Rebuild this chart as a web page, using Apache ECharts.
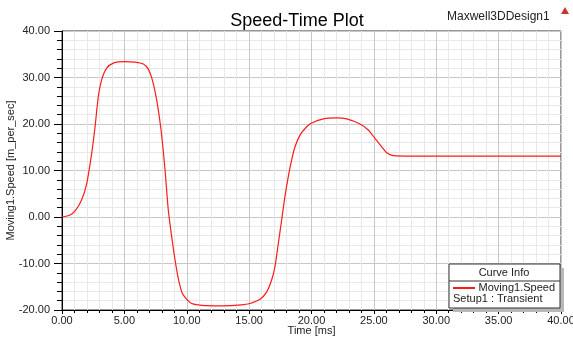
<!DOCTYPE html>
<html>
<head>
<meta charset="utf-8">
<script src="https://cdn.jsdelivr.net/npm/echarts@6/dist/echarts.min.js"></script>
<style>
html,body{margin:0;padding:0;background:#fff;}
#c{width:573px;height:337px;}
</style>
</head>
<body>
<div id="c"></div>
<script>
// Data
var timeMs = [0, 0.64, 1.10, 1.58, 1.98, 2.38, 2.65, 2.91, 3.18, 3.58, 4.11, 5.05, 5.85, 6.52, 6.92, 7.24, 7.59, 7.94, 8.26, 8.52, 8.79, 9.06, 9.32, 9.64, 10.0, 10.4, 11.2, 12.8, 14.4, 15.07, 15.87, 16.41, 16.81, 17.07, 17.34, 17.61, 17.87, 18.14, 18.41, 18.68, 19.08, 19.62, 20.02, 20.95, 22.02, 22.82, 23.89, 24.55, 25.09, 25.63, 26.03, 26.56, 28.0, 30.0, 35.0, 40.0];
var speed  = [0, 0.43, 1.5, 3.7, 7.2, 13.7, 19.4, 25.9, 29.5, 32.0, 33.1, 33.4, 33.3, 32.9, 31.8, 29.5, 25.2, 18.7, 10.1, 1.5, -4.2, -9.2, -13.2, -16.4, -17.7, -18.6, -19.0, -19.1, -18.9, -18.6, -17.7, -16.1, -13.5, -10.7, -5.7, -0.6, 4.4, 8.7, 12.3, 15.1, 17.6, 19.4, 20.2, 21.1, 21.3, 21.1, 20.0, 18.7, 16.9, 15.1, 13.8, 13.2, 13.1, 13.1, 13.1, 13.1];
var xTicks = {min: 0, max: 40, step: 5};
var yTicks = {min: -20, max: 40, step: 10};
var titleText = 'Speed-Time Plot';
var designName = 'Maxwell3DDesign1';
var seriesName = 'Moving1.Speed';
var setupName = 'Setup1 : Transient';

var pts = timeMs.map(function(t, i){ return [t, speed[i]]; });
var font = 'Liberation Sans, Arial, sans-serif';

var chart = echarts.init(document.getElementById('c'));
chart.setOption({
  animation: false,
  backgroundColor: '#fff',
  grid: {left: 62, right: 12, top: 31, bottom: 27, containLabel: false, outerBoundsMode: 'none', show: true, borderColor: '#333', borderWidth: 1, backgroundColor: 'transparent'},
  title: {
    text: titleText, left: 292, top: 7, textAlign: 'center',
    textStyle: {fontFamily: font, fontSize: 18, fontWeight: 'normal', color: '#000'}
  },
  xAxis: {
    type: 'value', min: xTicks.min, max: xTicks.max, interval: xTicks.step,
    name: 'Time [ms]', nameLocation: 'middle', nameGap: 15, nameMoveOverlap: false,
    nameTextStyle: {fontFamily: font, fontSize: 11, color: '#222'},
    axisLine: {show: true, onZero: false, lineStyle: {color: '#000', width: 1}},
    axisTick: {show: true, length: 4, lineStyle: {color: '#000'}},
    minorTick: {show: true, splitNumber: 5, length: 3, lineStyle: {color: '#000'}},
    axisLabel: {fontFamily: font, fontSize: 11, color: '#222', margin: 5, formatter: function(v){ return v.toFixed(2); }},
    splitLine: {show: true, lineStyle: {color: '#c8c8c8', width: 1}},
    minorSplitLine: {show: true, lineStyle: {color: '#e8e8e8', width: 1}}
  },
  yAxis: {
    type: 'value', min: yTicks.min, max: yTicks.max, interval: yTicks.step,
    name: 'Moving1.Speed [m_per_sec]', nameLocation: 'middle', nameGap: 46, nameMoveOverlap: false,
    nameTextStyle: {fontFamily: font, fontSize: 11, color: '#222'},
    axisLine: {show: true, onZero: false, lineStyle: {color: '#000', width: 1}},
    axisTick: {show: true, length: 8, lineStyle: {color: '#000'}},
    minorTick: {show: true, splitNumber: 5, length: 5, lineStyle: {color: '#000'}},
    axisLabel: {fontFamily: font, fontSize: 11, color: '#222', margin: 12, formatter: function(v){ return v.toFixed(2); }},
    splitLine: {show: true, lineStyle: {color: '#c8c8c8', width: 1}},
    minorSplitLine: {show: true, lineStyle: {color: '#e8e8e8', width: 1}}
  },
  series: [{
    name: seriesName, type: 'line', data: pts, showSymbol: false, smooth: 0.25,
    lineStyle: {color: '#ff1a1a', width: 1.2}
  }],
  graphic: [
    {type: 'text', left: 447, top: 11, style: {text: designName, font: '12px ' + font, fill: '#222'}},
    {type: 'polygon', shape: {points: [[565, 7], [561, 14], [569, 14]]}, style: {fill: '#d23030'}},
    {type: 'rect', shape: {x: 453, y: 268, width: 111, height: 44}, style: {fill: '#b8b8b8'}, z: 10},
    {type: 'rect', shape: {x: 449, y: 264, width: 111, height: 44}, style: {fill: '#fff', stroke: '#333', lineWidth: 1}, z: 11},
    {type: 'line', shape: {x1: 449, y1: 281, x2: 560, y2: 281}, style: {stroke: '#333', lineWidth: 1}, z: 12},
    {type: 'text', style: {x: 504, y: 272.5, text: 'Curve Info', font: '11px ' + font, fill: '#222', textAlign: 'center', textVerticalAlign: 'middle'}, z: 12},
    {type: 'line', shape: {x1: 453, y1: 288, x2: 475, y2: 288}, style: {stroke: '#ff1a1a', lineWidth: 2}, z: 12},
    {type: 'text', style: {x: 555, y: 288, text: seriesName, font: '11px ' + font, fill: '#222', textAlign: 'right', textVerticalAlign: 'middle'}, z: 12},
    {type: 'text', style: {x: 453, y: 299, text: setupName, font: '11px ' + font, fill: '#222', textAlign: 'left', textVerticalAlign: 'middle'}, z: 12}
  ]
});
</script>
</body>
</html>
